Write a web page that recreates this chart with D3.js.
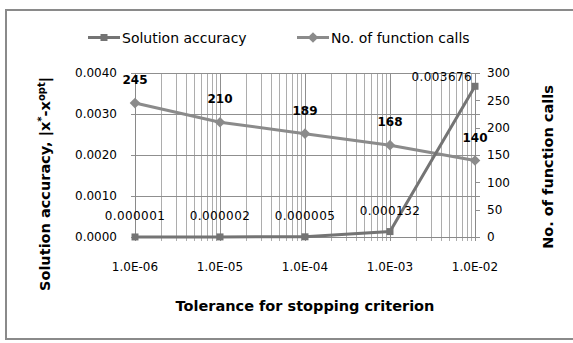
<!DOCTYPE html>
<html>
<head>
<meta charset="utf-8">
<script src="https://cdn.jsdelivr.net/npm/d3@7"></script>
<style>
  body { margin: 0; background: #fff; }
  svg text { font-family: "DejaVu Sans", "Open Sans", sans-serif; fill: #000; }
</style>
</head>
<body>
<script>
// data
var tolerances = [1e-6, 1e-5, 1e-4, 1e-3, 1e-2];
var tolLabels = ["1.0E-06", "1.0E-05", "1.0E-04", "1.0E-03", "1.0E-02"];
var accuracy = [0.000001, 0.000002, 0.000005, 0.000132, 0.003676];
var accuracyLabels = ["0.000001", "0.000002", "0.000005", "0.000132", "0.003676"];
var funcCalls = [245, 210, 189, 168, 140];
var leftTicks = [0, 0.001, 0.002, 0.003, 0.004];
var rightTicks = [0, 50, 100, 150, 200, 250, 300];
var seriesNames = ["Solution accuracy", "No. of function calls"];

var width = 573, height = 343;
var plot = {left: 135, right: 475, top: 73, bottom: 237};

var accColor = "#747474";
var callColor = "#8b8b8b";

var svg = d3.select("body").append("svg")
    .attr("width", width)
    .attr("height", height);

// outer frame
svg.append("rect")
    .attr("x", 6).attr("y", 10)
    .attr("width", 580).attr("height", 329)
    .attr("fill", "#fff")
    .attr("stroke", "#8a8a8a")
    .attr("stroke-width", 2);

var xScale = d3.scaleLog().domain([1e-6, 1e-2]).range([plot.left, plot.right]);
var yLeft = d3.scaleLinear().domain([0, 0.004]).range([plot.bottom, plot.top]);
var yRight = d3.scaleLinear().domain([0, 300]).range([plot.bottom, plot.top]);

// minor + major log ticks
var allTicks = xScale.ticks();
var grid = svg.append("g");

grid.selectAll(".vgrid")
    .data(allTicks)
    .enter().append("line")
    .attr("x1", function(d) { return Math.round(xScale(d)) + 0.5; })
    .attr("x2", function(d) { return Math.round(xScale(d)) + 0.5; })
    .attr("y1", plot.top)
    .attr("y2", plot.bottom + 4)
    .attr("stroke", function(d) {
        var e = Math.log10(d);
        return Math.abs(e - Math.round(e)) < 1e-9 ? "#8f8f8f" : "#adadad";
    })
    .attr("stroke-width", 1);

grid.selectAll(".hgrid")
    .data(leftTicks)
    .enter().append("line")
    .attr("x1", plot.left - 4)
    .attr("x2", plot.right + 5)
    .attr("y1", function(d) { return Math.round(yLeft(d)) + 0.5; })
    .attr("y2", function(d) { return Math.round(yLeft(d)) + 0.5; })
    .attr("stroke", "#8f8f8f")
    .attr("stroke-width", 1);

// right axis ticks
grid.selectAll(".rtick")
    .data(rightTicks)
    .enter().append("line")
    .attr("x1", plot.right)
    .attr("x2", plot.right + 5)
    .attr("y1", function(d) { return Math.round(yRight(d)) + 0.5; })
    .attr("y2", function(d) { return Math.round(yRight(d)) + 0.5; })
    .attr("stroke", "#8f8f8f");

// axis lines
svg.append("line")
    .attr("x1", plot.left + 0.5).attr("x2", plot.left + 0.5)
    .attr("y1", plot.top).attr("y2", plot.bottom)
    .attr("stroke", "#8a8a8a");
svg.append("line")
    .attr("x1", plot.right + 0.5).attr("x2", plot.right + 0.5)
    .attr("y1", plot.top).attr("y2", plot.bottom)
    .attr("stroke", "#8a8a8a");
svg.append("line")
    .attr("x1", plot.left).attr("x2", plot.right)
    .attr("y1", plot.bottom + 0.5).attr("y2", plot.bottom + 0.5)
    .attr("stroke", "#8a8a8a");

// tick labels
svg.selectAll(".lt")
    .data(leftTicks)
    .enter().append("text")
    .attr("x", 117)
    .attr("y", function(d) { return yLeft(d); })
    .attr("dy", "0.35em")
    .attr("text-anchor", "end")
    .attr("font-size", 12)
    .text(function(d) { return d.toFixed(4); });

svg.selectAll(".rt")
    .data(rightTicks)
    .enter().append("text")
    .attr("x", 487)
    .attr("y", function(d) { return yRight(d); })
    .attr("dy", "0.35em")
    .attr("text-anchor", "start")
    .attr("font-size", 12)
    .text(function(d) { return d; });

svg.selectAll(".xt")
    .data(tolerances)
    .enter().append("text")
    .attr("x", function(d) { return xScale(d); })
    .attr("y", 267)
    .attr("dy", "0.35em")
    .attr("text-anchor", "middle")
    .attr("font-size", 12)
    .text(function(d, i) { return tolLabels[i]; });

// series lines
var accLine = d3.line()
    .x(function(d, i) { return xScale(tolerances[i]); })
    .y(function(d) { return yLeft(d); });
var callLine = d3.line()
    .x(function(d, i) { return xScale(tolerances[i]); })
    .y(function(d) { return yRight(d); });

svg.append("path")
    .attr("d", callLine(funcCalls))
    .attr("fill", "none")
    .attr("stroke", callColor)
    .attr("stroke-width", 3);

svg.append("path")
    .attr("d", accLine(accuracy))
    .attr("fill", "none")
    .attr("stroke", accColor)
    .attr("stroke-width", 3);

var diamond = d3.symbol().type(d3.symbolDiamond2).size(72);
var square = d3.symbol().type(d3.symbolSquare).size(49);

svg.selectAll(".cm")
    .data(funcCalls)
    .enter().append("path")
    .attr("d", diamond)
    .attr("transform", function(d, i) {
        return "translate(" + xScale(tolerances[i]) + "," + yRight(d) + ")"; })
    .attr("fill", callColor);

svg.selectAll(".am")
    .data(accuracy)
    .enter().append("path")
    .attr("d", square)
    .attr("transform", function(d, i) {
        return "translate(" + xScale(tolerances[i]) + "," + yLeft(d) + ")"; })
    .attr("fill", accColor);

// data labels
svg.selectAll(".al")
    .data(accuracy)
    .enter().append("text")
    .attr("x", function(d, i) {
        return i == accuracy.length - 1 ? xScale(tolerances[i]) - 3 : xScale(tolerances[i]); })
    .attr("y", function(d, i) {
        return i == accuracy.length - 1 ? yLeft(d) - 9 : yLeft(d) - 21; })
    .attr("dy", "0.35em")
    .attr("text-anchor", function(d, i) { return i == accuracy.length - 1 ? "end" : "middle"; })
    .attr("font-size", 12)
    .attr("letter-spacing", 0.4)
    .text(function(d, i) { return accuracyLabels[i]; });

svg.selectAll(".cl")
    .data(funcCalls)
    .enter().append("text")
    .attr("x", function(d, i) { return xScale(tolerances[i]); })
    .attr("y", function(d) { return yRight(d) - 23; })
    .attr("dy", "0.35em")
    .attr("text-anchor", "middle")
    .attr("font-size", 12)
    .attr("font-weight", "bold")
    .text(function(d) { return d; });

// legend
var legend = svg.append("g");
var legX = [88, 297];
var legColors = [accColor, callColor];
var legSymbols = [square, diamond];
seriesNames.forEach(function(name, i) {
    legend.append("line")
        .attr("x1", legX[i]).attr("x2", legX[i] + 32)
        .attr("y1", 37.5).attr("y2", 37.5)
        .attr("stroke", legColors[i])
        .attr("stroke-width", 3);
    legend.append("path")
        .attr("d", legSymbols[i])
        .attr("transform", "translate(" + (legX[i] + 16) + ",37.5)")
        .attr("fill", legColors[i]);
    legend.append("text")
        .attr("x", legX[i] + 34)
        .attr("y", 38)
        .attr("dy", "0.35em")
        .attr("font-size", 14)
        .text(name);
});

// axis titles
svg.append("text")
    .attr("x", 305)
    .attr("y", 306)
    .attr("dy", "0.35em")
    .attr("text-anchor", "middle")
    .attr("font-size", 14.5)
    .attr("font-weight", "bold")
    .text("Tolerance for stopping criterion");

var leftTitle = svg.append("text")
    .attr("transform", "translate(50,184) rotate(-90)")
    .attr("text-anchor", "middle")
    .attr("font-size", 14.5)
    .attr("font-weight", "bold");
leftTitle.append("tspan").text("Solution accuracy, |x");
leftTitle.append("tspan").attr("font-size", 10).attr("dy", -5).text("*");
leftTitle.append("tspan").attr("dy", 5).text("-x");
leftTitle.append("tspan").attr("font-size", 10).attr("dy", -5).text("opt");
leftTitle.append("tspan").attr("dy", 5).text("|");

svg.append("text")
    .attr("transform", "translate(553,167) rotate(-90)")
    .attr("text-anchor", "middle")
    .attr("font-size", 14.5)
    .attr("font-weight", "bold")
    .text("No. of function calls");
</script>
</body>
</html>
